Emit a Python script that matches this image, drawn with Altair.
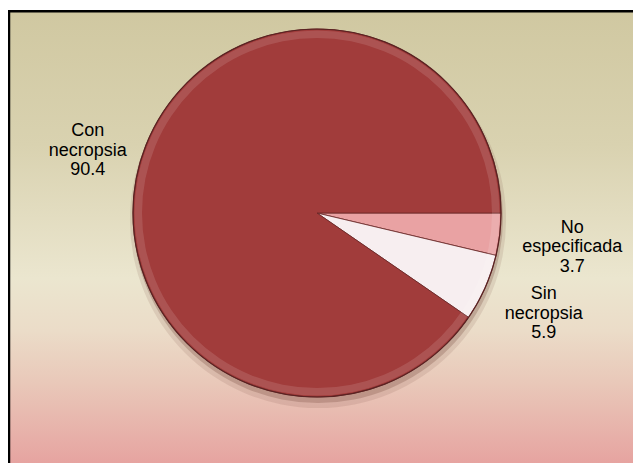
import altair as alt
import pandas as pd
import math

# Data
categorias = ["No especificada", "Sin necropsia", "Con necropsia"]
valores = [3.7, 5.9, 90.4]
colores = ["#e9a2a3", "#f7eef0", "#a13c3b"]

df = pd.DataFrame({
    "categoria": categorias,
    "valor": valores,
    "orden": list(range(len(categorias))),
})
df["etiqueta"] = [c.replace(" ", "\n") + "\n" + f"{v:.1f}" for c, v in zip(categorias, valores)]

W, H = 625, 455
CX, CY, R = 309, 205, 184

# background frame with vertical gradient
fondo = alt.Chart(alt.Data(values=[{}])).mark_rect(
    color=alt.LinearGradient(
        gradient="linear", x1=0, x2=0, y1=0, y2=1,
        stops=[
            alt.GradientStop(offset=0.0, color="#d0c8a1"),
            alt.GradientStop(offset=0.28, color="#d9d2b0"),
            alt.GradientStop(offset=0.56, color="#ebe6cf"),
            alt.GradientStop(offset=0.67, color="#ebdcc8"),
            alt.GradientStop(offset=0.78, color="#e9c8b9"),
            alt.GradientStop(offset=0.95, color="#e6a3a0"),
            alt.GradientStop(offset=1.0, color="#e59f9c"),
        ],
    ),
    stroke="black", strokeWidth=2.5,
).encode(x=alt.value(1), x2=alt.value(680), y=alt.value(3.3), y2=alt.value(480))

# soft shadow under the pie
sombra1 = alt.Chart(alt.Data(values=[{}])).mark_arc(
    theta=0, theta2=2 * math.pi, radius=R + 4, color="#6b3a30", opacity=0.12
).encode(x=alt.value(CX + 1), y=alt.value(CY + 7))
sombra2 = alt.Chart(alt.Data(values=[{}])).mark_arc(
    theta=0, theta2=2 * math.pi, radius=R + 1, color="#6b3a30", opacity=0.25
).encode(x=alt.value(CX + 1), y=alt.value(CY + 5))

theta_scale = alt.Scale(domain=[0, 100], range=[math.pi / 2, math.pi / 2 + 2 * math.pi])

pastel = alt.Chart(df).mark_arc(radius=R, stroke="#6a2727", strokeWidth=0.8).encode(
    theta=alt.Theta("valor:Q", stack=True, scale=theta_scale),
    order=alt.Order("orden:Q"),
    color=alt.Color("categoria:N", scale=alt.Scale(domain=categorias, range=colores), legend=None),
    x=alt.value(CX), y=alt.value(CY),
)

# light bevel rim
borde = alt.Chart(alt.Data(values=[{}])).mark_arc(
    theta=0, theta2=2 * math.pi, radius=R - 1.5, radius2=R - 9,
    color="white", opacity=0.12,
).encode(x=alt.value(CX), y=alt.value(CY))
contorno = alt.Chart(alt.Data(values=[{}])).mark_arc(
    theta=0, theta2=2 * math.pi, radius=R, filled=False,
    stroke="#5a2222", strokeWidth=1.2,
).encode(x=alt.value(CX), y=alt.value(CY))

# label placement styles (radius from pie centre, vertical nudge)
radios_etiqueta = [257, 248, 240]
desplaz_etiqueta = [-15, -19.5, -10.5]

base_txt = alt.Chart(df).transform_window(
    acum="sum(valor)", sort=[alt.SortField("orden")], frame=[None, 0]
).transform_calculate(medio="datum.acum - datum.valor / 2")


def etiqueta(cat, radio, dy):
    return base_txt.transform_filter(alt.datum.categoria == cat).mark_text(
        radius=radio, font="Liberation Sans", fontSize=18, lineHeight=19.5,
        lineBreak="\n", align="center", baseline="middle", color="black", dy=dy,
    ).encode(
        theta=alt.Theta("medio:Q", stack=False, scale=theta_scale),
        text="etiqueta:N", x=alt.value(CX), y=alt.value(CY),
    )


textos = [etiqueta(c, r, d) for c, r, d in zip(categorias, radios_etiqueta, desplaz_etiqueta)]

chart = alt.layer(fondo, sombra1, sombra2, pastel, borde, contorno, *textos).properties(
    width=W, height=H, padding=0, autosize=alt.AutoSizeParams(type="none")
).configure_view(stroke=None)

chart.save("out.html", embed_options={"renderer": "svg", "actions": False})
